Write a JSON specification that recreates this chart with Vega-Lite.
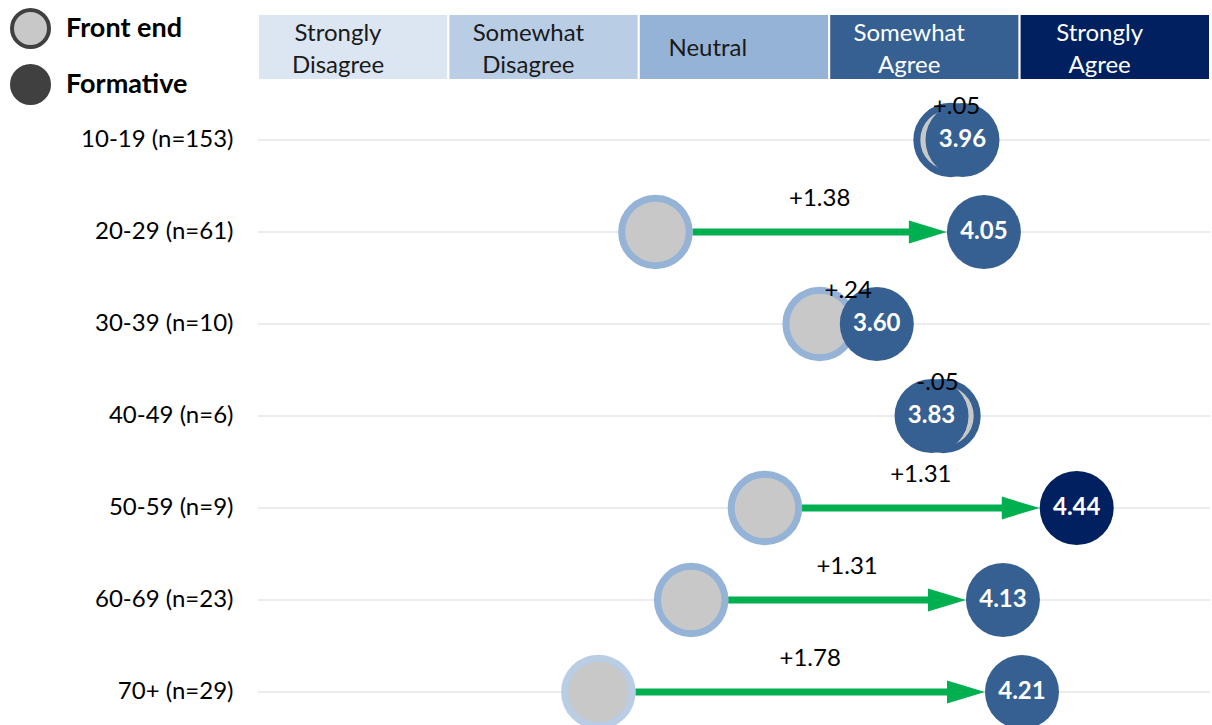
{
  "$schema": "https://vega.github.io/schema/vega-lite/v6.json",
  "width": 952,
  "height": 724,
  "autosize": {"type": "none"},
  "padding": {"left": 258, "top": 1, "right": 2, "bottom": 0},
  "background": "white",
  "config": {"view": {"stroke": null}, "font": "Lato"},
  "datasets": {
    "groups": [
      {"group": "10-19 (n=153)", "front": 3.91, "formative": 3.96, "change": "+.05"},
      {"group": "20-29 (n=61)", "front": 2.67, "formative": 4.05, "change": "+1.38"},
      {"group": "30-39 (n=10)", "front": 3.36, "formative": 3.60, "change": "+.24"},
      {"group": "40-49 (n=6)", "front": 3.88, "formative": 3.83, "change": "-.05"},
      {"group": "50-59 (n=9)", "front": 3.13, "formative": 4.44, "change": "+1.31"},
      {"group": "60-69 (n=23)", "front": 2.82, "formative": 4.13, "change": "+1.31"},
      {"group": "70+ (n=29)", "front": 2.43, "formative": 4.21, "change": "+1.78"}
    ],
    "bands": [
      {"group": "header", "label": "Strongly\nDisagree", "lo": 1.0, "hi": 1.8},
      {"group": "header", "label": "Somewhat\nDisagree", "lo": 1.8, "hi": 2.6},
      {"group": "header", "label": "Neutral", "lo": 2.6, "hi": 3.4},
      {"group": "header", "label": "Somewhat\nAgree", "lo": 3.4, "hi": 4.2},
      {"group": "header", "label": "Strongly\nAgree", "lo": 4.2, "hi": 5.0}
    ]
  },
  "resolve": {"scale": {"color": "independent", "fill": "independent", "stroke": "independent"}},
  "encoding": {
    "y": {
      "field": "group",
      "type": "nominal",
      "sort": null,
      "scale": {
        "type": "band",
        "domain": ["header", "10-19 (n=153)", "20-29 (n=61)", "30-39 (n=10)", "40-49 (n=6)", "50-59 (n=9)", "60-69 (n=23)", "70+ (n=29)"],
        "range": [1, 737],
        "paddingInner": 0,
        "paddingOuter": 0
      },
      "axis": {
        "title": null,
        "domain": false,
        "ticks": false,
        "tickSize": 0,
        "grid": false,
        "labelPadding": 25,
        "labelFontSize": 24,
        "labelFont": "Lato",
        "labelColor": "#000000",
        "labelExpr": "datum.value == 'header' ? '' : datum.value"
      }
    }
  },
  "layer": [
    {
      "data": {"name": "groups"},
      "mark": {"type": "rule", "color": "#D9D9D9", "strokeWidth": 1},
      "encoding": {
        "x": {"datum": 1, "type": "quantitative", "scale": {"domain": [1, 5], "nice": false, "zero": false}, "axis": null},
        "x2": {"datum": 5}
      }
    },
    {
      "data": {"name": "bands"},
      "mark": {"type": "bar", "height": 66, "yOffset": -1, "stroke": "white", "strokeWidth": 2},
      "encoding": {
        "x": {"field": "lo", "type": "quantitative", "axis": null},
        "x2": {"field": "hi"},
        "color": {
          "field": "label",
          "type": "nominal",
          "scale": {
            "domain": ["Strongly\nDisagree", "Somewhat\nDisagree", "Neutral", "Somewhat\nAgree", "Strongly\nAgree"],
            "range": ["#DCE6F2", "#B9CDE5", "#95B3D7", "#376092", "#002060"]
          },
          "legend": null
        }
      }
    },
    {
      "data": {"name": "bands"},
      "transform": [{"filter": "indexof(datum.label, '\\n') >= 0"}],
      "mark": {"type": "text", "lineBreak": "\n", "fontSize": 24, "lineHeight": 32, "align": "center", "baseline": "middle", "xOffset": 80, "dy": -14},
      "encoding": {
        "x": {"field": "lo", "type": "quantitative", "axis": null},
        "text": {"field": "label"},
        "color": {"condition": {"test": "datum.lo >= 3", "value": "#FFFFFF"}, "value": "#1A1A1A"}
      }
    },
    {
      "data": {"name": "bands"},
      "transform": [{"filter": "indexof(datum.label, '\\n') < 0"}],
      "mark": {"type": "text", "fontSize": 24, "align": "center", "baseline": "middle", "xOffset": 69, "dy": 1},
      "encoding": {
        "x": {"field": "lo", "type": "quantitative", "axis": null},
        "text": {"field": "label"},
        "color": {"condition": {"test": "datum.lo >= 3", "value": "#FFFFFF"}, "value": "#1A1A1A"}
      }
    },
    {
      "data": {"name": "groups"},
      "transform": [{"filter": "datum.formative - datum.front > 0.5"}],
      "mark": {"type": "rule", "color": "#00B050", "strokeWidth": 7, "xOffset": 37, "x2Offset": -70},
      "encoding": {
        "x": {"field": "front", "type": "quantitative", "axis": null},
        "x2": {"field": "formative"}
      }
    },
    {
      "data": {"name": "groups"},
      "transform": [{"filter": "datum.formative - datum.front > 0.5"}],
      "mark": {"type": "point", "shape": "M-1,-0.6L1,0L-1,0.6Z", "filled": true, "color": "#00B050", "opacity": 1, "size": 1444, "xOffset": -56},
      "encoding": {
        "x": {"field": "formative", "type": "quantitative", "axis": null}
      }
    },
    {
      "data": {"name": "groups"},
      "mark": {"type": "point", "shape": "circle", "filled": true, "fill": "#C8C8C8", "opacity": 1, "size": 4556, "strokeWidth": 7},
      "encoding": {
        "x": {"field": "front", "type": "quantitative", "axis": null},
        "stroke": {
          "field": "front",
          "type": "quantitative",
          "scale": {"type": "threshold", "domain": [1.8, 2.6, 3.4, 4.25], "range": ["#DCE6F2", "#B9CDE5", "#95B3D7", "#376092", "#002060"]},
          "legend": null
        }
      }
    },
    {
      "data": {"name": "groups"},
      "mark": {"type": "point", "shape": "circle", "filled": true, "opacity": 1, "size": 5476, "strokeWidth": 0},
      "encoding": {
        "x": {"field": "formative", "type": "quantitative", "axis": null},
        "color": {
          "field": "formative",
          "type": "quantitative",
          "scale": {"type": "threshold", "domain": [1.8, 2.6, 3.4, 4.25], "range": ["#DCE6F2", "#B9CDE5", "#95B3D7", "#376092", "#002060"]},
          "legend": null
        }
      }
    },
    {
      "data": {"name": "groups"},
      "mark": {"type": "text", "fontSize": 24, "fontWeight": "bold", "color": "#FFFFFF", "align": "center", "baseline": "middle"},
      "encoding": {
        "x": {"field": "formative", "type": "quantitative", "axis": null},
        "text": {"field": "formative", "type": "quantitative", "format": ".2f"}
      }
    },
    {
      "data": {"name": "groups"},
      "transform": [
        {"fold": ["front", "formative"], "as": ["series", "score"]},
        {"aggregate": [{"op": "mean", "field": "score", "as": "mid"}], "groupby": ["group", "change"]}
      ],
      "mark": {"type": "text", "fontSize": 24, "color": "#000000", "align": "center", "baseline": "middle", "dy": -33},
      "encoding": {
        "x": {"field": "mid", "type": "quantitative", "axis": null},
        "text": {"field": "change"}
      }
    },
    {
      "data": {"name": "groups"},
      "transform": [{"fold": ["front", "formative"], "as": ["series", "score"]}],
      "mark": {"type": "point", "shape": "circle", "filled": true, "opacity": 0},
      "encoding": {
        "x": {"field": "score", "type": "quantitative", "axis": null},
        "fill": {
          "field": "series",
          "type": "nominal",
          "scale": {"domain": ["front", "formative"], "range": ["#C8C8C8", "#404040"]},
          "legend": {
            "orient": "none",
            "legendX": -248,
            "legendY": 7,
            "title": null,
            "symbolType": "circle",
            "symbolSize": 1369,
            "symbolStrokeWidth": 4,
            "symbolOpacity": 1,
            "labelFontSize": 27,
            "labelFontWeight": "bold",
            "labelFont": "Lato",
            "labelColor": "#000000",
            "labelOffset": 15,
            "rowPadding": 3,
            "labelExpr": "datum.value == 'front' ? 'Front end' : 'Formative'",
            "encode": {
              "symbols": {
                "update": {
                  "fill": {"signal": "datum.value == 'front' ? '#C8C8C8' : '#404040'"},
                  "stroke": {"value": "#404040"},
                  "opacity": {"value": 1},
                  "fillOpacity": {"value": 1},
                  "strokeOpacity": {"value": 1}
                }
              }
            }
          }
        },
        "stroke": {
          "field": "series",
          "type": "nominal",
          "scale": {"domain": ["front", "formative"], "range": ["#404040", "#404040"]}
        }
      }
    }
  ]
}
